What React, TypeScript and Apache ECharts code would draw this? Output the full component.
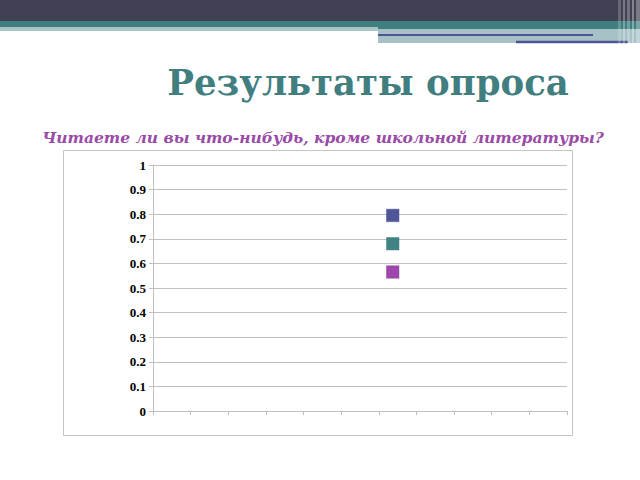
import * as echarts from 'echarts';
import { useEffect, useRef } from 'react';

// данные опроса
const seriesNames = ['Ряд1', 'Ряд2', 'Ряд3'];
const seriesValues = [0.795, 0.68, 0.565];
const pointX = 6.37; // положение точек по горизонтали (в делениях оси)
const xTickCount = 11;
const yTicks = ['0', '0.1', '0.2', '0.3', '0.4', '0.5', '0.6', '0.7', '0.8', '0.9', '1'];

const colors = ['#4F5596', '#3F8385', '#9B47AB'];

export default function App() {
  const chartRef = useRef<HTMLDivElement>(null);

  useEffect(() => {
    if (!chartRef.current) return;
    const chart = echarts.init(chartRef.current, null, { renderer: 'svg' });

    chart.setOption({
      animation: false,
      backgroundColor: '#ffffff',
      grid: { left: 153, right: 73, top: 165, bottom: 69 },
      title: [
        {
          text: 'Результаты опроса',
          left: 363,
          top: 59,
          textAlign: 'center',
          textStyle: {
            fontFamily: 'DejaVu Serif',
            fontWeight: 'bold',
            fontSize: 35.5,
            color: '#417E80',
          },
        },
        {
          text: 'Читаете ли вы что-нибудь, кроме школьной литературы?',
          left: 318,
          top: 124,
          textAlign: 'center',
          textStyle: {
            fontFamily: 'DejaVu Serif',
            fontStyle: 'italic',
            fontWeight: 'bold',
            fontSize: 15.5,
            color: '#9A4AA8',
          },
        },
      ],
      graphic: [
        { type: 'rect', shape: { x: 0, y: 0, width: 640, height: 21 }, style: { fill: '#414154' }, z: 1 },
        { type: 'rect', shape: { x: 0, y: 21, width: 640, height: 6 }, style: { fill: '#3F7F80' }, z: 1 },
        { type: 'rect', shape: { x: 0, y: 27, width: 378, height: 4 }, style: { fill: '#A9C4C6' }, z: 1 },
        { type: 'rect', shape: { x: 378, y: 27, width: 262, height: 2 }, style: { fill: '#3F7F80' }, z: 1 },
        { type: 'rect', shape: { x: 378, y: 29, width: 262, height: 14 }, style: { fill: '#A6C2C6' }, z: 1 },
        { type: 'line', shape: { x1: 378, y1: 35, x2: 593, y2: 35 }, style: { stroke: '#4F5596', lineWidth: 2 }, z: 2 },
        { type: 'line', shape: { x1: 516, y1: 42, x2: 628, y2: 42 }, style: { stroke: '#4F5596', lineWidth: 2.5 }, z: 2 },
        { type: 'rect', shape: { x: 618, y: 0, width: 3, height: 45 }, style: { fill: 'rgba(255,255,255,0.2)' }, z: 3 },
        { type: 'rect', shape: { x: 623, y: 0, width: 2, height: 45 }, style: { fill: 'rgba(255,255,255,0.3)' }, z: 3 },
        { type: 'rect', shape: { x: 627, y: 0, width: 3, height: 45 }, style: { fill: 'rgba(255,255,255,0.25)' }, z: 3 },
        { type: 'rect', shape: { x: 632, y: 0, width: 2, height: 45 }, style: { fill: 'rgba(255,255,255,0.35)' }, z: 3 },
        { type: 'rect', shape: { x: 636, y: 0, width: 4, height: 45 }, style: { fill: 'rgba(255,255,255,0.3)' }, z: 3 },
        {
          type: 'rect',
          shape: { x: 63.5, y: 150.5, width: 509, height: 285 },
          style: { fill: 'none', stroke: '#C4C4C4', lineWidth: 1 },
          z: 0,
        },
      ],
      xAxis: {
        type: 'value',
        min: 0,
        max: xTickCount,
        interval: 1,
        axisLabel: { show: false },
        axisLine: { lineStyle: { color: '#BFBFBF' } },
        axisTick: { show: true, length: 4, lineStyle: { color: '#BFBFBF' } },
        splitLine: { show: false },
      },
      yAxis: {
        type: 'value',
        min: 0,
        max: 1,
        interval: 0.1,
        axisLabel: {
          margin: 7,
          fontFamily: 'Liberation Serif',
          fontWeight: 'bold',
          fontSize: 13,
          color: '#000',
          formatter: (v: number) => yTicks[Math.round(v * 10)] ?? String(v),
        },
        axisLine: { show: true, lineStyle: { color: '#BFBFBF' } },
        axisTick: { show: true, length: 4, lineStyle: { color: '#BFBFBF' } },
        splitLine: { lineStyle: { color: '#C0C0C0', width: 1 } },
      },
      series: seriesNames.map((name, i) => ({
        name,
        type: 'scatter',
        symbol: 'rect',
        symbolSize: 12.5,
        data: [[pointX, seriesValues[i]]],
        itemStyle: { color: colors[i], borderColor: colors[i], borderWidth: 0.5, opacity: 1 },
      })),
    });

    return () => chart.dispose();
  }, []);

  return (
    <div
      ref={chartRef}
      style={{ position: 'fixed', left: 0, top: 0, width: '640px', height: '480px' }}
    />
  );
}
